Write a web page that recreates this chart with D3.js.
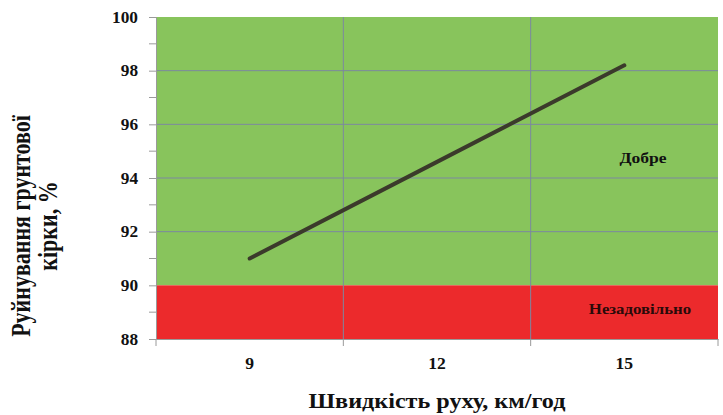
<!DOCTYPE html>
<html>
<head>
<meta charset="utf-8">
<script src="https://cdn.jsdelivr.net/npm/d3@7"></script>
<style>
  body { margin: 0; background: #fff; }
</style>
</head>
<body>
<svg id="chart"></svg>
<script>
// speeds (km/h) and crust destruction (%)
const speeds = ["9", "12", "15"];
const destruction = [91.0, 94.6, 98.2];
const yTicks = [88, 90, 92, 94, 96, 98, 100];
const yMinorTicks = [89, 91, 93, 95, 97, 99];
const zones = [
  { name: "Добре", from: 90, to: 100, color: "#88c45c" },
  { name: "Незадовільно", from: 88, to: 90, color: "#ec2a2c" },
];

const FONT = "Liberation Serif";
const width = 723, height = 415;
const margin = { top: 17, right: 5, bottom: 76, left: 156 };

// the source picture is a bit wider than tall, so glyphs get widened too
function widen(sel, k) {
  sel.each(function () {
    const w = this.getComputedTextLength();
    d3.select(this).attr("textLength", w * k).attr("lengthAdjust", "spacingAndGlyphs");
  });
}

const svg = d3.select("#chart").attr("width", width).attr("height", height)
  .attr("font-family", FONT).attr("font-weight", "bold");

const x = d3.scaleBand().domain(speeds).range([margin.left, width - margin.right]).padding(0);
const y = d3.scaleLinear().domain([88, 100]).range([height - margin.bottom, margin.top]);

// zones
svg.append("g").selectAll("rect").data(zones).join("rect")
  .attr("x", margin.left)
  .attr("width", width - margin.right - margin.left)
  .attr("y", d => y(d.to))
  .attr("height", d => y(d.from) - y(d.to))
  .attr("fill", d => d.color);

// grid
const gridColor = "#7c88a0";
svg.append("g").selectAll("line").data(yTicks.filter(t => t > 90 && t < 100)).join("line")
  .attr("x1", margin.left).attr("x2", width - margin.right)
  .attr("y1", d => y(d)).attr("y2", d => y(d))
  .attr("stroke", gridColor).attr("stroke-width", 1);

const bounds = speeds.map(s => x(s)).concat([x.range()[1]]);
svg.append("g").selectAll("line").data(bounds.slice(1, -1)).join("line")
  .attr("x1", d => d).attr("x2", d => d)
  .attr("y1", y(100)).attr("y2", y(88))
  .attr("stroke", gridColor).attr("stroke-width", 1);

// y axis
const yAxis = svg.append("g")
  .attr("transform", `translate(${margin.left},0)`)
  .call(d3.axisLeft(y).tickValues(yTicks).tickSize(7).tickPadding(11).tickFormat(d3.format("d")));
yAxis.attr("font-family", FONT);
yAxis.select(".domain").attr("stroke", "#9a9a9a");
yAxis.selectAll(".tick line").attr("stroke", "#9a9a9a");
yAxis.selectAll(".tick text").attr("font-size", 16).attr("fill", "#111").call(widen, 1.08);
yAxis.append("g").selectAll("line").data(yMinorTicks).join("line")
  .attr("x1", -7).attr("x2", 0)
  .attr("y1", d => y(d)).attr("y2", d => y(d))
  .attr("stroke", "#9a9a9a");

// x axis
const xAxis = svg.append("g")
  .attr("transform", `translate(0,${y(88)})`)
  .call(d3.axisBottom(x).tickSize(0).tickPadding(19));
xAxis.attr("font-family", FONT);
xAxis.select(".domain").attr("stroke", "#9a9a9a");
xAxis.selectAll(".tick text").attr("font-size", 16).attr("fill", "#111").call(widen, 1.1);
xAxis.append("g").selectAll("line").data(bounds).join("line")
  .attr("x1", d => d).attr("x2", d => d)
  .attr("y1", 0).attr("y2", 7)
  .attr("stroke", "#9a9a9a");

// data line
svg.append("path")
  .datum(speeds.map((s, i) => [s, destruction[i]]))
  .attr("fill", "none")
  .attr("stroke", "#3b3a2b")
  .attr("stroke-width", 4)
  .attr("stroke-linecap", "round")
  .attr("d", d3.line().x(d => x(d[0]) + x.bandwidth() / 2).y(d => y(d[1])));

// zone labels
svg.append("text")
  .attr("x", 643).attr("y", 163)
  .attr("text-anchor", "middle")
  .attr("font-size", 15).attr("fill", "#111")
  .text(zones[0].name)
  .call(widen, 1.17);
svg.append("text")
  .attr("x", 640).attr("y", 314)
  .attr("text-anchor", "middle")
  .attr("font-size", 14).attr("fill", "#2a0a0a")
  .text(zones[1].name)
  .call(widen, 1.2);

// titles
svg.append("text")
  .attr("x", 437).attr("y", 408)
  .attr("text-anchor", "middle")
  .attr("font-size", 21).attr("fill", "#111")
  .text("Швидкість руху, км/год")
  .call(widen, 1.15);

const yTitle = svg.append("text")
  .attr("transform", "translate(0,226) scale(1.2,1) rotate(-90)")
  .attr("text-anchor", "middle")
  .attr("font-size", 22).attr("fill", "#111");
yTitle.append("tspan").attr("x", 0).attr("y", 25).text("Руйнування грунтової");
yTitle.append("tspan").attr("x", 0).attr("y", 47.5).text("кірки, %");
</script>
</body>
</html>
